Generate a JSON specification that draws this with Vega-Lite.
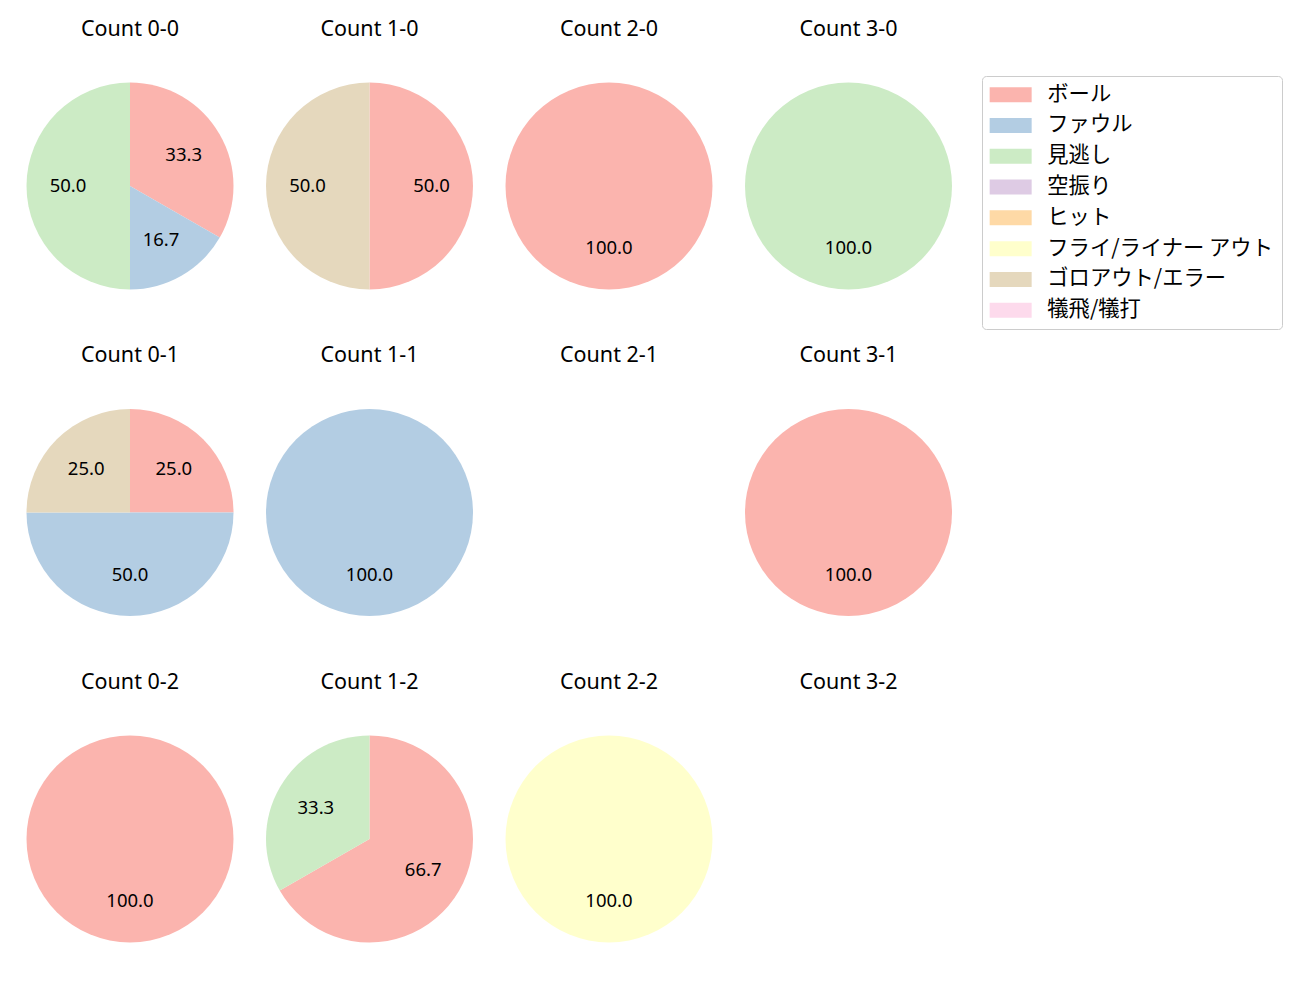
{
  "$schema": "https://vega.github.io/schema/vega-lite/v6.json",
  "padding": {"left": 20, "top": 18, "right": 5, "bottom": 5},
  "config": {"view": {"stroke": null}, "font": "Noto Sans"},
  "data": {"values": [
    {"count": "Count 0-0", "type": "ボール", "k": 0, "pct": 33.3},
    {"count": "Count 0-0", "type": "ファウル", "k": 1, "pct": 16.7},
    {"count": "Count 0-0", "type": "見逃し", "k": 2, "pct": 50.0},
    {"count": "Count 1-0", "type": "ボール", "k": 0, "pct": 50.0},
    {"count": "Count 1-0", "type": "ゴロアウト/エラー", "k": 6, "pct": 50.0},
    {"count": "Count 2-0", "type": "ボール", "k": 0, "pct": 100.0},
    {"count": "Count 3-0", "type": "見逃し", "k": 2, "pct": 100.0},
    {"count": "Count 0-1", "type": "ボール", "k": 0, "pct": 25.0},
    {"count": "Count 0-1", "type": "ファウル", "k": 1, "pct": 50.0},
    {"count": "Count 0-1", "type": "ゴロアウト/エラー", "k": 6, "pct": 25.0},
    {"count": "Count 1-1", "type": "ファウル", "k": 1, "pct": 100.0},
    {"count": "Count 2-1", "type": "ボール", "k": 0, "pct": 0},
    {"count": "Count 3-1", "type": "ボール", "k": 0, "pct": 100.0},
    {"count": "Count 0-2", "type": "ボール", "k": 0, "pct": 100.0},
    {"count": "Count 1-2", "type": "ボール", "k": 0, "pct": 66.7},
    {"count": "Count 1-2", "type": "見逃し", "k": 2, "pct": 33.3},
    {"count": "Count 2-2", "type": "フライ/ライナー アウト", "k": 5, "pct": 100.0},
    {"count": "Count 3-2", "type": "ボール", "k": 0, "pct": 0}
  ]},
  "facet": {
    "field": "count",
    "type": "nominal",
    "sort": ["Count 0-0", "Count 1-0", "Count 2-0", "Count 3-0", "Count 0-1", "Count 1-1", "Count 2-1", "Count 3-1", "Count 0-2", "Count 1-2", "Count 2-2", "Count 3-2"],
    "header": {"title": null, "labelFontSize": 21.5, "labelPadding": 36, "labelColor": "#000000", "labelFont": "Noto Sans"}
  },
  "columns": 4,
  "spacing": {"column": 19.5, "row": 48.5},
  "spec": {
    "width": 220,
    "height": 220,
    "layer": [
      {
        "mark": {"type": "arc", "outerRadius": 103.5},
        "encoding": {
          "theta": {"field": "pct", "type": "quantitative", "stack": true, "scale": {"domain": [0, 100]}},
          "order": {"field": "k", "type": "quantitative"},
          "color": {
            "field": "type", "type": "nominal",
            "scale": {
              "domain": ["ボール", "ファウル", "見逃し", "空振り", "ヒット", "フライ/ライナー アウト", "ゴロアウト/エラー", "犠飛/犠打"],
              "range": ["#fbb4ae", "#b3cde3", "#ccebc5", "#decbe4", "#fed9a6", "#ffffcc", "#e5d8bd", "#fddaec"]
            },
            "legend": {
              "title": null, "orient": "none", "legendX": 962, "legendY": 0,
              "labelFontSize": 21.3, "labelFont": "Noto Sans CJK JP", "labelColor": "#000000",
              "symbolType": "M-1.571,-1.07H4.429V1.07H-1.571Z", "symbolSize": 196, "symbolStrokeWidth": 0, "symbolOpacity": 1,
              "labelOffset": 36, "rowPadding": 8.8,
              "strokeColor": "#cccccc", "cornerRadius": 4, "padding": 8, "fillColor": "#ffffff",
              "labelLimit": 400
            }
          }
        }
      },
      {
        "mark": {"type": "text", "radius": 62, "fontSize": 18.5, "font": "Noto Sans", "color": "#000000"},
        "encoding": {
          "theta": {"field": "pct", "type": "quantitative", "stack": true, "scale": {"domain": [0, 100]}},
          "order": {"field": "k", "type": "quantitative"},
          "text": {"condition": {"test": "datum.pct > 0", "field": "pct", "type": "quantitative", "format": ".1f"}, "value": ""}
        }
      }
    ]
  }
}
